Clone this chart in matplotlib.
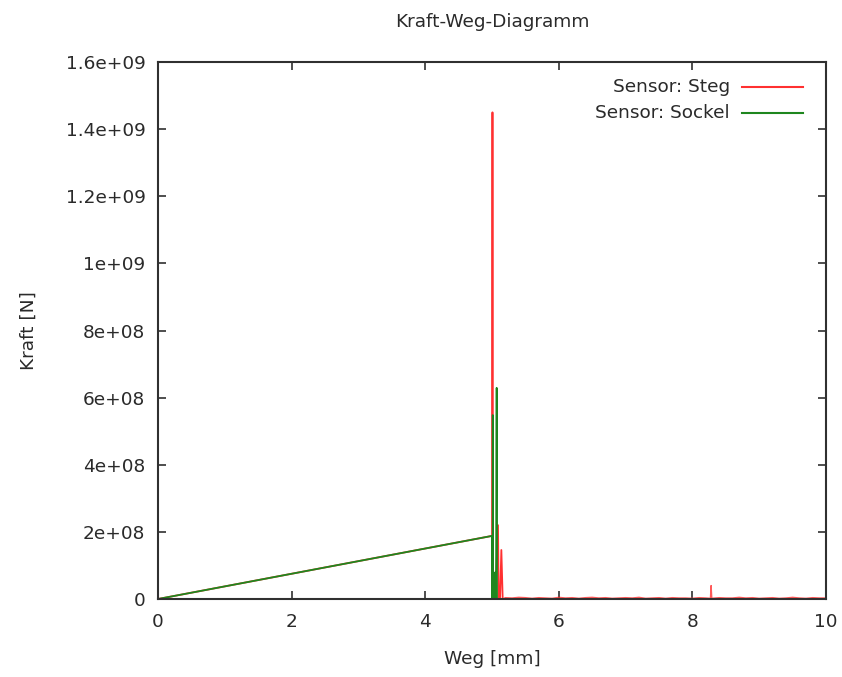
import numpy as np
import matplotlib
matplotlib.use('Agg')
import matplotlib.pyplot as plt

plt.rcParams['font.family'] = ['DejaVu Sans']

# ramp up to the break at 5 mm (both sensors lie on top of each other)
ramp_x = [0.0, 5.0]
ramp_y = [0.0, 1.88e8]

# Sensor: Steg - spikes right after the break
steg_x = [5.0, 5.002, 5.007, 5.012, 5.05, 5.09, 5.1, 5.12, 5.14, 5.16]
steg_y = [1.88e8, 0.0, 1.45e9, 0.0, 0.0, 2.2e8, 0.0, 0.0, 1.46e8, 0.0]

# Sensor: Steg - small noise on the rest of the way (values in 1e6 N)
noise_x = [5.16, 5.2, 5.3, 5.4, 5.5, 5.6, 5.7, 5.8, 5.9, 6.0, 6.1, 6.2, 6.3,
           6.4, 6.5, 6.6, 6.7, 6.8, 6.9, 7.0, 7.1, 7.2, 7.3, 7.4, 7.5,
           7.6, 7.7, 7.8, 7.9, 8.0, 8.1, 8.2, 8.27, 8.28, 8.29, 8.4, 8.5,
           8.6, 8.7, 8.8, 8.9, 9.0, 9.1, 9.2, 9.3, 9.4, 9.5, 9.6, 9.7,
           9.8, 9.9, 10.0]
noise_y = [0, 4, 3, 5, 4, 2, 4, 3, 2, 5, 3, 4, 2,
           4, 5, 3, 4, 2, 3, 4, 3, 5, 2, 3, 4,
           2, 4, 3, 3, 2, 4, 3, 2, 40, 2, 4, 3,
           3, 5, 3, 4, 2, 3, 4, 2, 3, 5, 3, 2,
           4, 3, 3]

# Sensor: Sockel - spikes after the break
sockel_x = [5.0, 5.002, 5.006, 5.01, 5.012, 5.016, 5.03, 5.045, 5.05, 5.06, 5.07, 5.075, 5.1, 10.0]
sockel_y = [1.88e8, 0.0, 8e7, 0.0, 5.48e8, 0.0, 6e7, 0.0, 8e7, 0.0, 6.29e8, 0.0, 0.0, 0.0]

red = '#ff3030'
green = '#1e861e'
txt = '#2a2a2a'
fs = 13.3

fig = plt.figure(figsize=(8.42, 6.77), dpi=100)
ax = fig.add_axes([158 / 842, 1 - 599 / 677, 668 / 842, 537 / 677])

sx = ramp_x + steg_x
sy = ramp_y + steg_y
ax.plot(sx, sy, color=red, lw=1.3)
gx = ramp_x + sockel_x
gy = ramp_y + sockel_y
ax.plot(gx, gy, color=green, lw=1.3)
ax.plot(noise_x, [v * 1e6 for v in noise_y], color=red, lw=1.0, alpha=0.8)

ax.set_xlim(0, 10)
ax.set_ylim(0, 1.6e9)
ax.set_xticks([0, 2, 4, 6, 8, 10])
ax.set_xticklabels(['0', '2', '4', '6', '8', '10'])
yticks = [0, 2e8, 4e8, 6e8, 8e8, 1e9, 1.2e9, 1.4e9, 1.6e9]
ytick_labels = ['0', '2e+08', '4e+08', '6e+08', '8e+08', '1e+09', '1.2e+09', '1.4e+09', '1.6e+09']
ax.set_yticks(yticks)
ax.set_yticklabels(ytick_labels)

for s in ax.spines.values():
    s.set_color('#303030')
    s.set_linewidth(1.5)
    s.set_zorder(5)
ax.tick_params(direction='in', length=6, width=1.2, color='#303030',
               top=True, right=True, labelsize=fs, labelcolor=txt)
ax.tick_params(axis='x', pad=10)
ax.tick_params(axis='y', pad=9)

ax.set_xlabel('Weg [mm]', fontsize=fs, color=txt, labelpad=14)
ax.set_ylabel('Kraft [N]', fontsize=fs, color=txt, labelpad=20)
fig.text(492 / 842, 1 - 22 / 677, 'Kraft-Weg-Diagramm', ha='center', va='center',
         fontsize=fs, color=txt)

# legend like gnuplot: right aligned text, sample line on the right
labels = ['Sensor: Steg', 'Sensor: Sockel']
colors = [red, green]
for i, (lab, c) in enumerate(zip(labels, colors)):
    yy = 0.953 - i * 0.048
    ax.text(0.856, yy, lab, transform=ax.transAxes, ha='right', va='center',
            fontsize=fs, color=txt)
    ax.plot([0.874, 0.9656], [yy, yy], transform=ax.transAxes, color=c, lw=1.5)

fig.savefig('out.png', dpi=100)
